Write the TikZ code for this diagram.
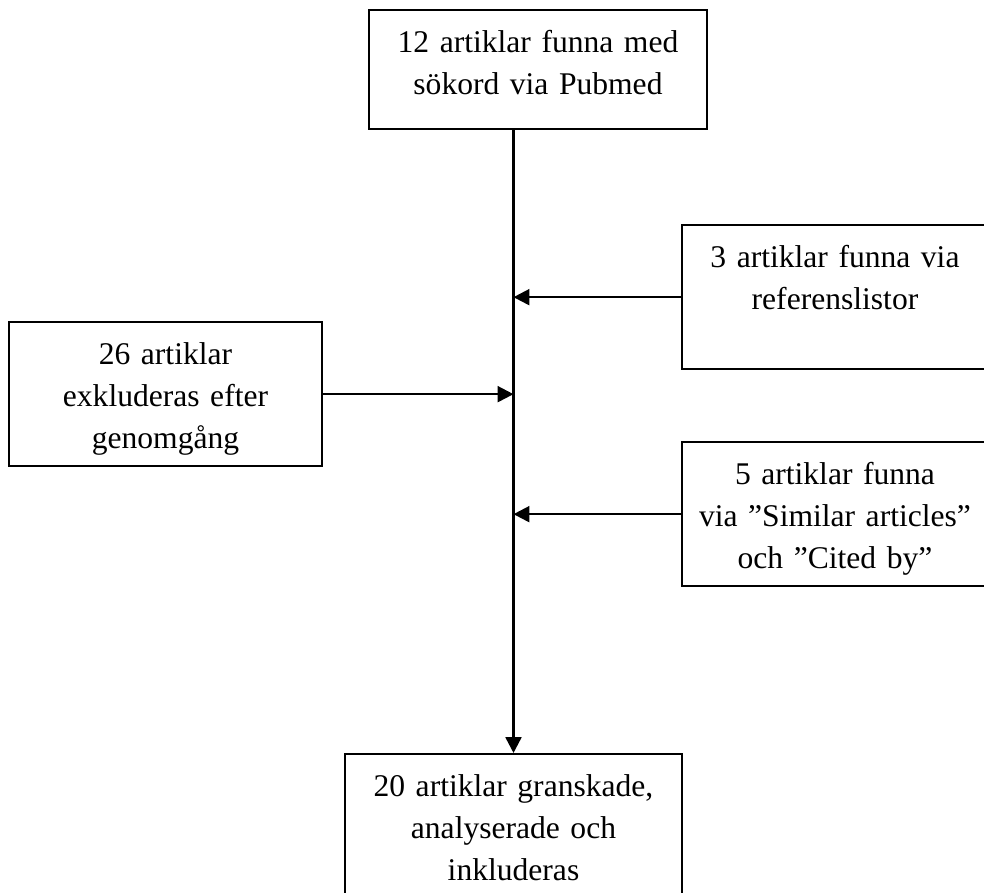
\documentclass[tikz,border=0pt]{standalone}
\usepackage{fontspec}
\setmainfont{Liberation Serif}
\usepackage{tikz}
\usetikzlibrary{arrows.meta,calc}
\tikzstyle{box} = [rectangle, draw, line width=0.9pt, align=center,
	inner xsep=4pt, inner ysep=0pt, anchor=north, text height=16pt,
	font=\fontsize{12}{16}\selectfont]
\tikzstyle{link} = [line width=0.9pt, -{Triangle[length=6pt,width=6pt]}]

\begin{document}
\begin{tikzpicture}[x=0.38pt, y=-0.38pt]
	\clip (0,0) rectangle (984,892);

	\node[box, text width=120.4pt, text depth=29.2pt] (pubmed) at (538,9) {
		12 artiklar funna med\\
		sökord via Pubmed
	};
	\node[box, text width=108.3pt, text depth=38.7pt] (reflists) at (835,224) {
		3 artiklar funna via\\
		referenslistor
	};
	\node[box, text width=110.9pt, text depth=38.7pt] (excluded) at (165.5,321) {
		26 artiklar\\
		exkluderas efter\\
		genomgång
	};
	\node[box, text width=108.3pt, text depth=38.7pt] (similar) at (835,441) {
		5 artiklar funna\\
		via ”Similar articles”\\
		och ”Cited by”
	};
	\node[box, text width=120.1pt, text depth=38.7pt] (included) at (513.5,753) {
		20 artiklar granskade,\\
		analyserade och\\
		inkluderas
	};

	\draw[link] (pubmed.south -| included.north) -- (included.north);
	\draw[link] (reflists.west) -- (reflists.west -| included.north);
	\draw[link] (excluded.east) -- (excluded.east -| included.north);
	\draw[link] (similar.west) -- (similar.west -| included.north);
\end{tikzpicture}
\end{document}
